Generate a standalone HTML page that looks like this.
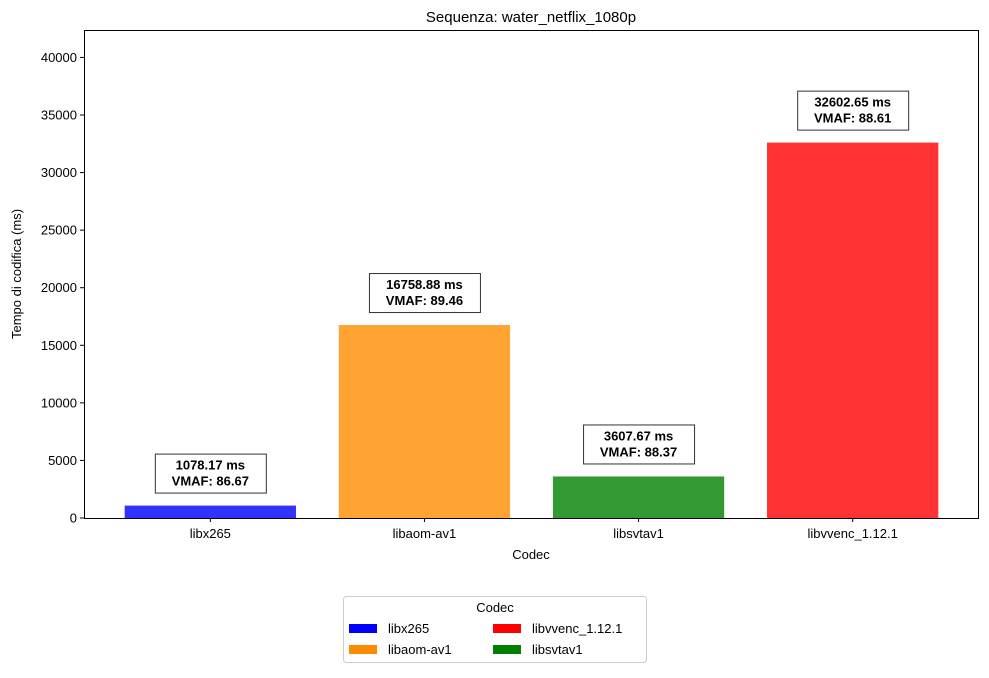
<!DOCTYPE html>
<html><head><meta charset="utf-8"><style>
body{margin:0;background:#fff;font-family:"Liberation Sans","DejaVu Sans",sans-serif;}
svg text{font-family:"Liberation Sans","DejaVu Sans",sans-serif;}
</style></head><body>
<svg id="chart" width="989" height="673" xmlns="http://www.w3.org/2000/svg">
<rect width="989" height="673" fill="#fff"/>
<text x="531" y="22" font-size="15" text-anchor="middle">Sequenza: water_netflix_1080p</text>
<g id="plot"></g>
<text x="531" y="559" font-size="13" text-anchor="middle">Codec</text>
<text transform="translate(21,274) rotate(-90)" font-size="13" text-anchor="middle">Tempo di codifica (ms)</text>
<g>
<rect x="343.5" y="596.5" width="303" height="66" rx="3" fill="#fff" stroke="#ccc"/>
<text x="495" y="612" font-size="13" text-anchor="middle">Codec</text>
<g><rect x="349" y="624" width="28" height="9" fill="blue"/><text x="388" y="633" font-size="13">libx265</text></g>
<g><rect x="349" y="645" width="28" height="9" fill="darkorange"/><text x="388" y="654" font-size="13">libaom-av1</text></g>
<g><rect x="493" y="624" width="28" height="9" fill="red"/><text x="532" y="633" font-size="13">libvvenc_1.12.1</text></g>
<g><rect x="493" y="645" width="28" height="9" fill="green"/><text x="532" y="654" font-size="13">libsvtav1</text></g>
</g>
</svg>
<script>
const categories=["libx265","libaom-av1","libsvtav1","libvvenc_1.12.1"];
const times=[1078.17,16758.88,3607.67,32602.65];
const vmaf=[86.67,89.46,88.37,88.61];
const colors=["rgba(0,0,255,0.8)","rgba(255,140,0,0.8)","rgba(0,128,0,0.8)","rgba(255,0,0,0.8)"];
const yTicks=[0,5000,10000,15000,20000,25000,30000,35000,40000];
const NS="http://www.w3.org/2000/svg";
const L=84,R=979,T=30,B=518;
const yMax=Math.max(...times)*1.3;
const y=v=>B-(v/yMax)*(B-T);
const pad=0.59;
const bw=(R-L)/(categories.length-1+2*pad);
const x=i=>L+(pad+i)*bw;
const g=document.getElementById('plot');
function mk(t,a,p){const e=document.createElementNS(NS,t);for(const k in a)e.setAttribute(k,a[k]);(p||g).appendChild(e);return e;}
yTicks.forEach(v=>{
 const t=mk('line',{x1:L-4,x2:L,y1:y(v),y2:y(v),stroke:'#000'});
 
 
 const l=mk('text',{x:L-7,y:y(v)+4.5,'font-size':13,'text-anchor':'end'});l.textContent=v;
 
 
});
categories.forEach((c,i)=>{
 const w=bw*0.8;
 const b=mk('rect',{x:x(i)-w/2,y:y(times[i]),width:w,height:B-y(times[i]),fill:colors[i]});
 
 
 mk('line',{x1:x(i),x2:x(i),y1:B,y2:B+4,stroke:'#000'});
 const tl=mk('text',{x:x(i),y:B+20,'font-size':13,'text-anchor':'middle'});tl.textContent=c;
 
 
 const by=y(times[i])-12;
 const gl=mk('g',{});
 
 
 const l1=(times[i].toFixed(2))+' ms', l2='VMAF: '+vmaf[i].toFixed(2);
 const bwid=Math.max(l1.length,l2.length)*9+12;
 mk('rect',{x:x(i)-bwid/2+0.5,y:by-39.5,width:bwid,height:39,fill:'#fff',stroke:'#333','fill-opacity':0.8},gl);
 const t1=mk('text',{x:x(i),y:by-24,'font-size':13,'font-weight':'bold','text-anchor':'middle'},gl);t1.textContent=l1;
 const t2=mk('text',{x:x(i),y:by-8,'font-size':13,'font-weight':'bold','text-anchor':'middle'},gl);t2.textContent=l2;
});
const f=mk('rect',{x:L+0.5,y:T+0.5,width:R-L-1,height:B-T,fill:'none',stroke:'#000'});


</script>
</body></html>
